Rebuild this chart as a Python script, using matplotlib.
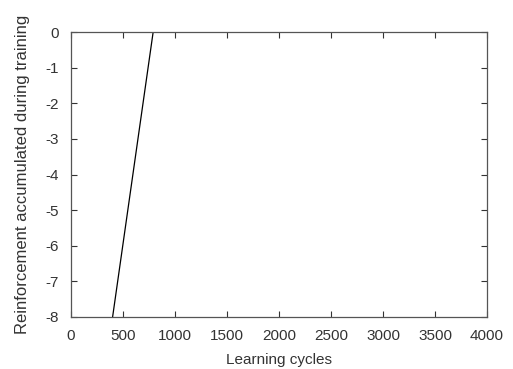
import matplotlib
matplotlib.use("Agg")
import matplotlib.pyplot as plt

# reinforcement curve (only two endpoints visible inside the window)
cycles = [400, 790]
reinforcement = [-8, 0]

xticks = [0, 500, 1000, 1500, 2000, 2500, 3000, 3500, 4000]
yticks = [0, -1, -2, -3, -4, -5, -6, -7, -8]

plt.rcParams['font.family'] = ['Liberation Sans', 'DejaVu Sans']
plt.rcParams['axes.unicode_minus'] = False

fig = plt.figure(figsize=(5.13, 3.69), dpi=100)
ax = fig.add_axes([71/513, 1 - 317/369, 416/513, 285/369])

ax.plot(cycles, reinforcement, color='black', lw=0.9)
ax.set_xlim(0, 4000)
ax.set_ylim(-8, 0)
ax.set_xticks(xticks)
ax.set_yticks(yticks)
ax.tick_params(direction='in', top=True, right=True, length=4, width=0.8,
               labelsize=11, colors='#333333')
ax.tick_params(axis='x', pad=9)
ax.tick_params(axis='y', pad=9)
for s in ax.spines.values():
    s.set_color('#555555')
    s.set_linewidth(0.9)
ax.set_xlabel('Learning cycles', fontsize=11, color='#333333', labelpad=7)
ax.set_ylabel('Reinforcement accumulated during training', fontsize=12,
              color='#333333', labelpad=11)

fig.savefig('out.png', dpi=100)
